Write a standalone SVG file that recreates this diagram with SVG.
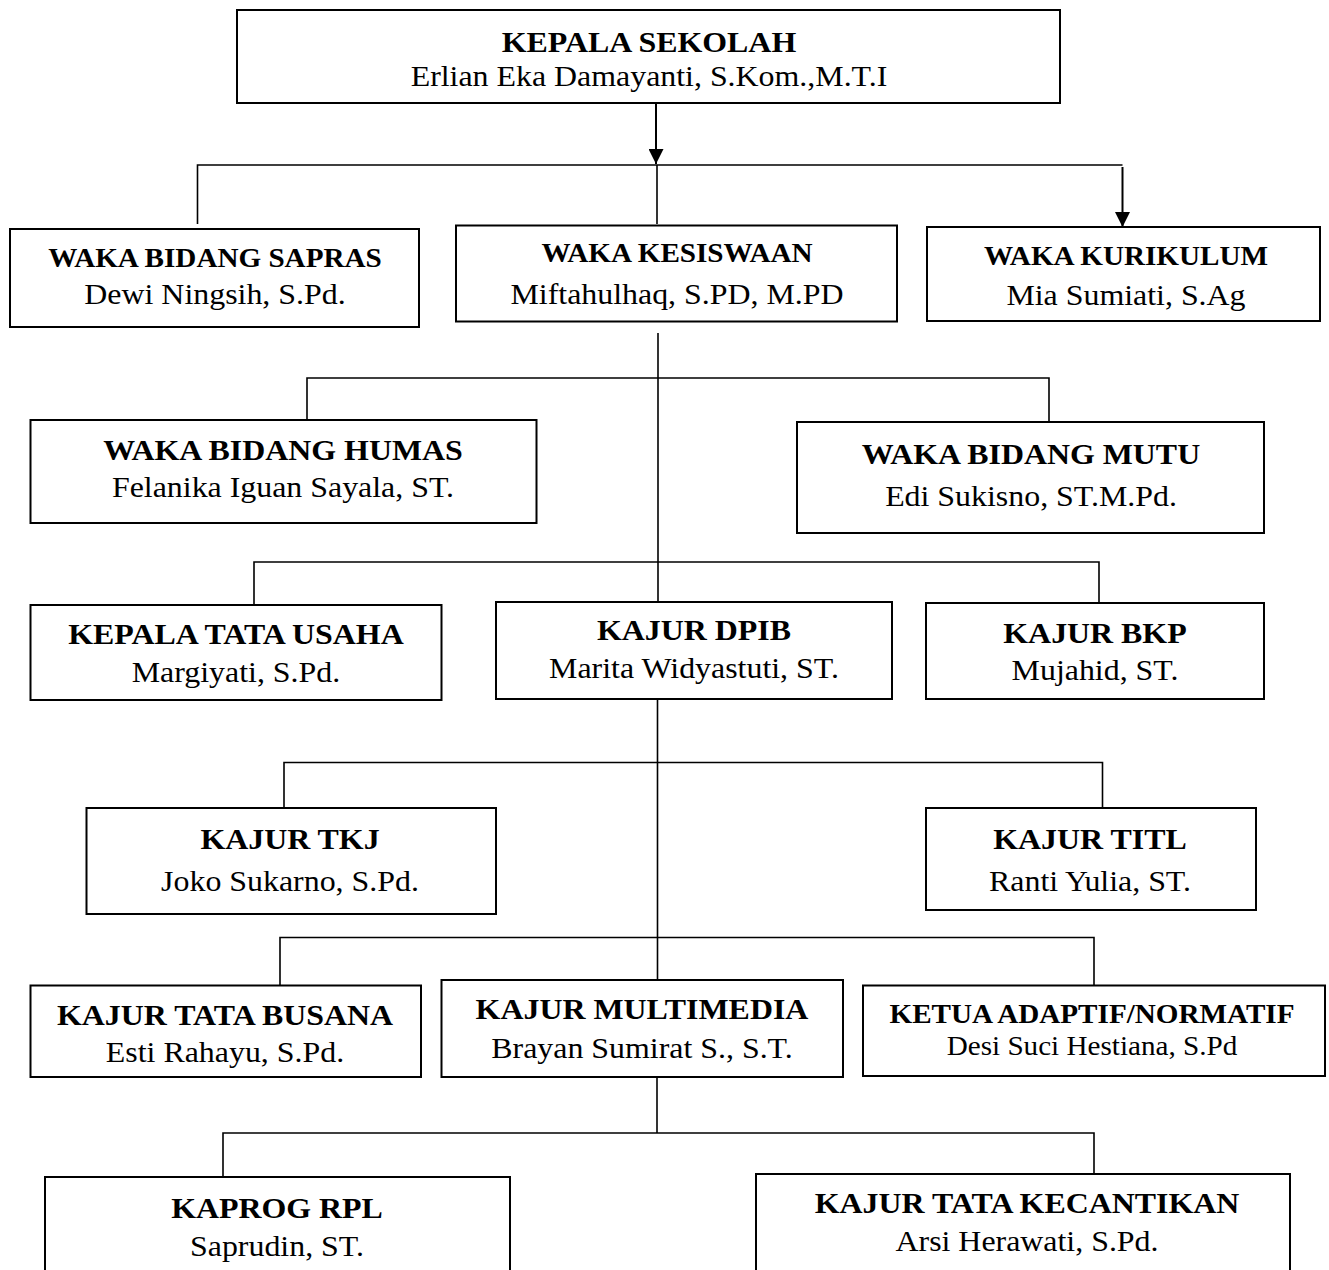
<svg xmlns="http://www.w3.org/2000/svg" width="1329" height="1270" viewBox="0 0 1329 1270">
<style>
.box{fill:#fff;stroke:#000;stroke-width:2}
.ln{fill:none;stroke:#000;stroke-width:1.6}
.h{font-family:"Liberation Serif","Times New Roman",serif;font-weight:bold;font-size:29px;text-anchor:middle;fill:#000}
.n{font-family:"Liberation Serif","Times New Roman",serif;font-size:29px;text-anchor:middle;fill:#000}
.hs{font-family:"Liberation Serif","Times New Roman",serif;font-weight:bold;font-size:26.5px;text-anchor:middle;fill:#000}
.ns{font-family:"Liberation Serif","Times New Roman",serif;font-size:26.5px;text-anchor:middle;fill:#000}
</style>
<defs>
<marker id="arr" markerUnits="userSpaceOnUse" viewBox="0 0 15 15" refX="15" refY="7.5" markerWidth="15" markerHeight="15" orient="auto">
<path d="M0,0 L15,7.5 L0,15 z" fill="#000"/>
</marker>
</defs>
<rect width="1329" height="1270" fill="#fff"/>
<g id="connectors">
<line class="ln" x1="656" y1="103" x2="656" y2="164" style="stroke-width:2" marker-end="url(#arr)"/>
<polyline class="ln" points="197.5,224 197.5,165 1122.5,165"/>
<line class="ln" x1="657" y1="165" x2="657" y2="224"/>
<line class="ln" x1="1122.5" y1="167" x2="1122.5" y2="227" style="stroke-width:2" marker-end="url(#arr)"/>
<line class="ln" x1="658" y1="333" x2="658" y2="602"/>
<polyline class="ln" points="307,420 307,378 1049,378 1049,422"/>
<polyline class="ln" points="254,604 254,562 1099,562 1099,603"/>
<line class="ln" x1="657.5" y1="699" x2="657.5" y2="980"/>
<polyline class="ln" points="284,808 284,762.5 1102.5,762.5 1102.5,808"/>
<polyline class="ln" points="280,985 280,937.5 1094,937.5 1094,985"/>
<line class="ln" x1="657" y1="1077" x2="657" y2="1133"/>
<polyline class="ln" points="223,1176 223,1133 1094,1133 1094,1173"/>
</g>
<g id="kepala-sekolah">
<rect class="box" x="237" y="10" width="823" height="93"/>
<g transform="matrix(1.1 0 0 1 -64.9 0)">
<text class="h" x="649" y="52">KEPALA SEKOLAH</text>
<text class="n" x="649" y="86">Erlian Eka Damayanti, S.Kom.,M.T.I</text>
</g>
</g>
<g id="waka-sapras">
<rect class="box" x="10" y="229" width="409" height="98"/>
<g transform="matrix(1.1 0 0 1 -21.5 0)">
<text class="hs" x="215" y="267">WAKA BIDANG SAPRAS</text>
<text class="n" x="215" y="304">Dewi Ningsih, S.Pd.</text>
</g>
</g>
<g id="waka-kesiswaan">
<rect class="box" x="456" y="225.5" width="441" height="96"/>
<g transform="matrix(1.1 0 0 1 -67.7 0)">
<text class="hs" x="677" y="262">WAKA KESISWAAN</text>
<text class="n" x="677" y="304">Miftahulhaq, S.PD, M.PD</text>
</g>
</g>
<g id="waka-kurikulum">
<rect class="box" x="927" y="227" width="393" height="94"/>
<g transform="matrix(1.1 0 0 1 -112.6 0)">
<text class="hs" x="1126" y="265">WAKA KURIKULUM</text>
<text class="n" x="1126" y="305">Mia Sumiati, S.Ag</text>
</g>
</g>
<g id="waka-humas">
<rect class="box" x="30.5" y="420" width="506" height="103"/>
<g transform="matrix(1.1 0 0 1 -28.3 0)">
<text class="h" x="283" y="460">WAKA BIDANG HUMAS</text>
<text class="n" x="283" y="497">Felanika Iguan Sayala, ST.</text>
</g>
</g>
<g id="waka-mutu">
<rect class="box" x="797" y="422" width="467" height="111"/>
<g transform="matrix(1.1 0 0 1 -103.1 0)">
<text class="h" x="1031" y="464">WAKA BIDANG MUTU</text>
<text class="n" x="1031" y="506">Edi Sukisno, ST.M.Pd.</text>
</g>
</g>
<g id="kepala-tata-usaha">
<rect class="box" x="30.5" y="605" width="411" height="95"/>
<g transform="matrix(1.1 0 0 1 -23.6 0)">
<text class="h" x="236" y="644">KEPALA TATA USAHA</text>
<text class="n" x="236" y="682">Margiyati, S.Pd.</text>
</g>
</g>
<g id="kajur-dpib">
<rect class="box" x="496" y="602" width="396" height="97"/>
<g transform="matrix(1.1 0 0 1 -69.4 0)">
<text class="h" x="694" y="640">KAJUR DPIB</text>
<text class="n" x="694" y="678">Marita Widyastuti, ST.</text>
</g>
</g>
<g id="kajur-bkp">
<rect class="box" x="926" y="603" width="338" height="96"/>
<g transform="matrix(1.1 0 0 1 -109.5 0)">
<text class="h" x="1095" y="643">KAJUR BKP</text>
<text class="n" x="1095" y="680">Mujahid, ST.</text>
</g>
</g>
<g id="kajur-tkj">
<rect class="box" x="86.5" y="808" width="409.5" height="106"/>
<g transform="matrix(1.1 0 0 1 -29 0)">
<text class="h" x="290" y="849">KAJUR TKJ</text>
<text class="n" x="290" y="891">Joko Sukarno, S.Pd.</text>
</g>
</g>
<g id="kajur-titl">
<rect class="box" x="926" y="808" width="330" height="102"/>
<g transform="matrix(1.1 0 0 1 -109 0)">
<text class="h" x="1090" y="849">KAJUR TITL</text>
<text class="n" x="1090" y="891">Ranti Yulia, ST.</text>
</g>
</g>
<g id="kajur-tata-busana">
<rect class="box" x="30.5" y="985.5" width="390.5" height="91.5"/>
<g transform="matrix(1.1 0 0 1 -22.5 0)">
<text class="h" x="225" y="1025">KAJUR TATA BUSANA</text>
<text class="n" x="225" y="1062">Esti Rahayu, S.Pd.</text>
</g>
</g>
<g id="kajur-multimedia">
<rect class="box" x="441.5" y="980" width="401.5" height="97"/>
<g transform="matrix(1.1 0 0 1 -64.2 0)">
<text class="h" x="642" y="1019">KAJUR MULTIMEDIA</text>
<text class="n" x="642" y="1058">Brayan Sumirat S., S.T.</text>
</g>
</g>
<g id="ketua-adaptif-normatif">
<rect class="box" x="863" y="985.5" width="462" height="90.5"/>
<g transform="matrix(1.1 0 0 1 -109.2 0)">
<text class="hs" x="1092" y="1023">KETUA ADAPTIF/NORMATIF</text>
<text class="ns" x="1092" y="1055">Desi Suci Hestiana, S.Pd</text>
</g>
</g>
<g id="kaprog-rpl">
<rect class="box" x="45" y="1177" width="465" height="120"/>
<g transform="matrix(1.1 0 0 1 -27.7 0)">
<text class="h" x="277" y="1218">KAPROG RPL</text>
<text class="n" x="277" y="1256">Saprudin, ST.</text>
</g>
</g>
<g id="kajur-tata-kecantikan">
<rect class="box" x="756" y="1174" width="534" height="120"/>
<g transform="matrix(1.1 0 0 1 -102.7 0)">
<text class="h" x="1027" y="1213">KAJUR TATA KECANTIKAN</text>
<text class="n" x="1027" y="1251">Arsi Herawati, S.Pd.</text>
</g>
</g>
</svg>
